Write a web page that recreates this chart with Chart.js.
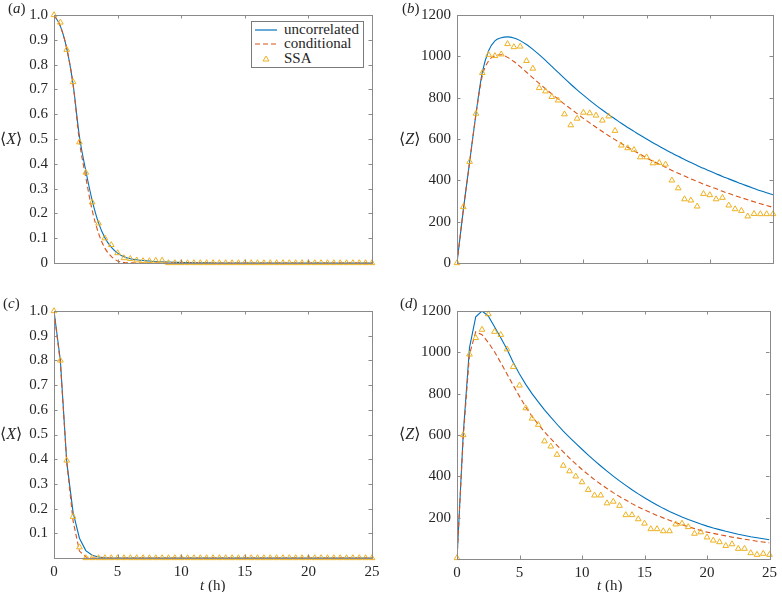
<!DOCTYPE html>
<html>
<head>
<meta charset="utf-8">
<script src="https://cdn.jsdelivr.net/npm/chart.js@4.4.1/dist/chart.umd.min.js"></script>
<style>
    html, body { margin: 0; padding: 0; background: #fff; }
    #fig { position: relative; width: 782px; height: 592px; overflow: hidden;
           font-family: 'Liberation Serif', 'DejaVu Serif', serif; color: #262626; }
    #fig canvas { position: absolute; }
    .txt { position: absolute; font-size: 15px; line-height: 16px; white-space: nowrap; }
    .ylab { font-size: 16px; }
    #legend { position: absolute; left: 251px; top: 21px; width: 111px; height: 45px;
              border: 1px solid #7a7a7a; background: #fff; }
    #legend .row { position: absolute; left: 0; height: 14px; }
    #legend svg { position: absolute; left: 3px; top: 0; }
    #legend span { position: absolute; left: 32px; top: -2px; font-size: 15px; line-height: 16px; white-space: nowrap; }
</style>
</head>
<body>
<div id="fig">
    <canvas id="chartA" width="391" height="296" style="left:0;top:0"></canvas>
    <canvas id="chartB" width="391" height="296" style="left:391px;top:0"></canvas>
    <canvas id="chartC" width="391" height="296" style="left:0;top:296px"></canvas>
    <canvas id="chartD" width="391" height="296" style="left:391px;top:296px"></canvas>

    <div class="txt" style="left:8px;top:0px">(<i>a</i>)</div>
    <div class="txt" style="left:402px;top:0px">(<i>b</i>)</div>
    <div class="txt" style="left:3px;top:295px">(<i>c</i>)</div>
    <div class="txt" style="left:400px;top:295px">(<i>d</i>)</div>

    <div class="txt ylab" style="left:0px;top:131px">&#10216;<i>X</i>&#10217;</div>
    <div class="txt ylab" style="left:399px;top:131px">&#10216;<i>Z</i>&#10217;</div>
    <div class="txt ylab" style="left:0px;top:426px">&#10216;<i>X</i>&#10217;</div>
    <div class="txt ylab" style="left:399px;top:426px">&#10216;<i>Z</i>&#10217;</div>

    <div class="txt" style="left:200px;top:577px"><i>t</i> (h)</div>
    <div class="txt" style="left:597px;top:577px"><i>t</i> (h)</div>

    <div id="legend">
        <div class="row" style="top:1px">
            <svg width="26" height="14"><line x1="0" y1="7" x2="22" y2="7" stroke="#0072BD" stroke-width="1.2"/></svg>
            <span>uncorrelated</span>
        </div>
        <div class="row" style="top:15px">
            <svg width="26" height="14"><line x1="0" y1="7" x2="22" y2="7" stroke="#D95319" stroke-width="1.2" stroke-dasharray="5,3"/></svg>
            <span>conditional</span>
        </div>
        <div class="row" style="top:30px">
            <svg width="26" height="14"><polygon points="11,4 14,9 8,9" fill="none" stroke="#EDB120" stroke-width="1"/></svg>
            <span>SSA</span>
        </div>
    </div>
</div>

<script>
// time grid (hours), shared by every panel
const tHours = [0, 0.5, 1, 1.5, 2, 2.5, 3, 3.5, 4, 4.5, 5, 5.5, 6, 6.5, 7, 7.5, 8, 8.5, 9, 9.5,
    10, 10.5, 11, 11.5, 12, 12.5, 13, 13.5, 14, 14.5, 15, 15.5, 16, 16.5, 17, 17.5, 18, 18.5, 19, 19.5,
    20, 20.5, 21, 21.5, 22, 22.5, 23, 23.5, 24, 24.5, 25];

// (a) <X>
const xUncorrA = [1.0, 0.955, 0.865, 0.72, 0.51, 0.372, 0.253, 0.162, 0.102, 0.064, 0.04, 0.025, 0.017, 0.013, 0.01, 0.008, 0.006, 0.005, 0.004, 0.003,
    0.002, 0.002, 0.001, 0.001, 0.001, 0, 0, 0, 0, 0, 0, 0, 0, 0, 0, 0, 0, 0, 0, 0,
    0, 0, 0, 0, 0, 0, 0, 0, 0, 0, 0];
const xCondA = [1.0, 0.955, 0.865, 0.72, 0.49, 0.345, 0.213, 0.12, 0.06, 0.027, 0.008, 0.002, 0.001, 0, 0, 0, 0, 0, 0, 0,
    0, 0, 0, 0, 0, 0, 0, 0, 0, 0, 0, 0, 0, 0, 0, 0, 0, 0, 0, 0,
    0, 0, 0, 0, 0, 0, 0, 0, 0, 0, 0];
const xSsaA = [1.0, 0.97, 0.86, 0.73, 0.487, 0.365, 0.245, 0.16, 0.1, 0.073, 0.04, 0.02, 0.017, 0.011, 0.008, 0.008, 0.01, 0.01, 0, 0,
    0, 0, 0, 0, 0, 0, 0, 0, 0, 0, 0, 0, 0, 0, 0, 0, 0, 0, 0, 0,
    0, 0, 0, 0, 0, 0, 0, 0, 0, 0, 0];

// (b) <Z>
const zUncorrB = [0, 257, 489, 722, 922, 1027, 1075, 1090, 1094, 1089, 1076, 1057, 1034, 1008, 980, 951, 922, 893, 865, 838,
    812, 787, 763, 740, 718, 697, 676, 656, 637, 618, 600, 582, 565, 548, 532, 516, 501, 486, 472, 458,
    445, 432, 419, 407, 395, 383, 372, 361, 350, 340, 330];
const zCondB = [0, 257, 489, 718, 905, 978, 1002, 1008, 995, 975, 950, 923, 896, 869, 843, 818, 793, 769, 746, 723,
    700, 678, 657, 636, 616, 597, 578, 560, 543, 526, 509, 493, 478, 463, 448, 434, 421, 407, 395, 382,
    370, 359, 347, 336, 326, 316, 306, 296, 287, 278, 269];
const zSsaB = [0, 271, 490, 723, 920, 1008, 1002, 1010, 1060, 1045, 1048, 978, 941, 847, 831, 804, 787, 720, 667, 699,
    728, 725, 714, 690, 710, 640, 569, 556, 548, 512, 512, 483, 485, 477, 400, 362, 309, 303, 274, 335,
    329, 309, 316, 279, 261, 253, 226, 238, 237, 237, 237];

// (c) <X>
const xUncorrC = [1.0, 0.8, 0.39, 0.185, 0.08, 0.03, 0.011, 0.004, 0.001, 0, 0, 0, 0, 0, 0, 0, 0, 0, 0, 0,
    0, 0, 0, 0, 0, 0, 0, 0, 0, 0, 0, 0, 0, 0, 0, 0, 0, 0, 0, 0,
    0, 0, 0, 0, 0, 0, 0, 0, 0, 0, 0];
const xCondC = [1.0, 0.79, 0.39, 0.15, 0.028, 0.004, 0, 0, 0, 0, 0, 0, 0, 0, 0, 0, 0, 0, 0, 0,
    0, 0, 0, 0, 0, 0, 0, 0, 0, 0, 0, 0, 0, 0, 0, 0, 0, 0, 0, 0,
    0, 0, 0, 0, 0, 0, 0, 0, 0, 0, 0];
const xSsaC = [1.0, 0.8, 0.395, 0.167, 0.044, 0, 0, 0, 0, 0, 0, 0, 0, 0, 0, 0, 0, 0, 0, 0,
    0, 0, 0, 0, 0, 0, 0, 0, 0, 0, 0, 0, 0, 0, 0, 0, 0, 0, 0, 0,
    0, 0, 0, 0, 0, 0, 0, 0, 0, 0, 0];

// (d) <Z>
const zUncorrD = [0, 606, 1023, 1172, 1200, 1176, 1124, 1071, 1015, 951, 895, 845, 800, 760, 722, 686, 652, 619, 588, 559,
    531, 503, 476, 450, 425, 401, 378, 356, 335, 315, 296, 278, 261, 245, 230, 216, 203, 191, 180, 169,
    159, 150, 142, 134, 127, 120, 114, 108, 103, 98, 93];
const zCondD = [0, 590, 990, 1100, 1085, 1048, 1003, 950, 895, 840, 787, 735, 690, 652, 615, 582, 550, 518, 488, 460,
    433, 408, 384, 362, 341, 321, 302, 285, 268, 252, 238, 224, 211, 199, 187, 176, 166, 156, 147, 138,
    130, 124, 118, 112, 106, 101, 96, 91, 86, 82, 78];
const zSsaD = [5, 600, 990, 1070, 1110, 1185, 1100, 1085, 1015, 930, 840, 730, 680, 650, 570, 545, 505, 452, 425, 400,
    372, 335, 308, 308, 270, 278, 258, 213, 213, 193, 172, 145, 145, 135, 135, 168, 172, 155, 123, 130,
    105, 90, 82, 64, 72, 50, 50, 29, 21, 26, 21];

const colors = {
    uncorr: '#0072BD',
    cond: '#D95319',
    ssa: '#EDB120',
    box: '#8a8a8a',
    text: '#262626'
};

Chart.defaults.font.family = "'Liberation Serif', 'DejaVu Serif', serif";
Chart.defaults.font.size = 15;
Chart.defaults.color = colors.text;

const toPoints = ys => ys.map((y, i) => ({ x: tHours[i], y: y }));

// matlab-like box with inward ticks on all four sides
const boxTicks = {
    id: 'boxTicks',
    afterDatasetsDraw(chart) {
        const { ctx, chartArea: a, scales: { x, y } } = chart;
        const len = 3.5;
        ctx.save();
        ctx.strokeStyle = colors.box;
        ctx.lineWidth = 1;
        ctx.beginPath();
        x.ticks.forEach(t => {
            const px = Math.round(x.getPixelForValue(t.value)) + 0.5;
            ctx.moveTo(px, a.top); ctx.lineTo(px, a.top + len);
            ctx.moveTo(px, a.bottom); ctx.lineTo(px, a.bottom - len);
        });
        y.ticks.forEach(t => {
            const py = Math.round(y.getPixelForValue(t.value)) + 0.5;
            ctx.moveTo(a.left, py); ctx.lineTo(a.left + len, py);
            ctx.moveTo(a.right, py); ctx.lineTo(a.right - len, py);
        });
        ctx.stroke();
        ctx.strokeRect(Math.round(a.left) + 0.5, Math.round(a.top) + 0.5,
            Math.round(a.right - a.left), Math.round(a.bottom - a.top));
        ctx.restore();
    }
};

function makePanel(id, p) {
    return new Chart(document.getElementById(id), {
        type: 'line',
        data: {
            datasets: [
                {
                    label: 'SSA',
                    data: toPoints(p.ssa),
                    showLine: false,
                    pointStyle: 'triangle',
                    pointRadius: 3.3,
                    borderWidth: 1,
                    borderColor: colors.ssa,
                    backgroundColor: 'rgba(0,0,0,0)',
                    clip: false
                },
                {
                    label: 'conditional',
                    data: toPoints(p.cond),
                    borderColor: colors.cond,
                    borderWidth: 1.1,
                    borderDash: [5, 3],
                    pointRadius: 0,
                    cubicInterpolationMode: p.smooth ? 'monotone' : 'default',
                    tension: 0
                },
                {
                    label: 'uncorrelated',
                    data: toPoints(p.uncorr),
                    borderColor: colors.uncorr,
                    borderWidth: 1.1,
                    pointRadius: 0,
                    cubicInterpolationMode: p.smooth ? 'monotone' : 'default',
                    tension: 0
                }
            ]
        },
        options: {
            responsive: false,
            animation: false,
            devicePixelRatio: 1,
            layout: { padding: { left: 0, top: p.top, right: 391 - p.right, bottom: 0 } },
            plugins: { legend: { display: false }, tooltip: { enabled: false } },
            scales: {
                x: {
                    type: 'linear',
                    min: 0,
                    max: 25,
                    grid: { display: false, drawTicks: false },
                    border: { display: false },
                    ticks: { stepSize: 5, display: p.xLabels, padding: 5, maxRotation: 0 },
                    afterFit: s => { s.height = 296 - p.bottom; }
                },
                y: {
                    min: 0,
                    max: p.yMax,
                    grid: { display: false, drawTicks: false },
                    border: { display: false },
                    ticks: { stepSize: p.yStep, padding: 6, callback: p.yFmt },
                    afterFit: s => { s.width = p.left; }
                }
            }
        },
        plugins: [boxTicks]
    });
}

const fmtX0 = v => v === 0 ? '0' : v.toFixed(1);
const fmtX = v => v === 0 ? '' : v.toFixed(1);
const fmtZ0 = v => String(v);
const fmtZ = v => v === 0 ? '' : String(v);

makePanel('chartA', { uncorr: xUncorrA, cond: xCondA, ssa: xSsaA, yMax: 1, yStep: 0.1, yFmt: fmtX0,
    xLabels: false, smooth: true, left: 54, right: 372, top: 13, bottom: 263 });
makePanel('chartB', { uncorr: zUncorrB, cond: zCondB, ssa: zSsaB, yMax: 1200, yStep: 200, yFmt: fmtZ0,
    xLabels: false, smooth: true, left: 66, right: 382, top: 14, bottom: 263 });
makePanel('chartC', { uncorr: xUncorrC, cond: xCondC, ssa: xSsaC, yMax: 1, yStep: 0.1, yFmt: fmtX,
    xLabels: true, smooth: false, left: 54, right: 372, top: 12, bottom: 262 });
makePanel('chartD', { uncorr: zUncorrD, cond: zCondD, ssa: zSsaD, yMax: 1200, yStep: 200, yFmt: fmtZ,
    xLabels: true, smooth: false, left: 66, right: 382, top: 14, bottom: 263 });
</script>
</body>
</html>
